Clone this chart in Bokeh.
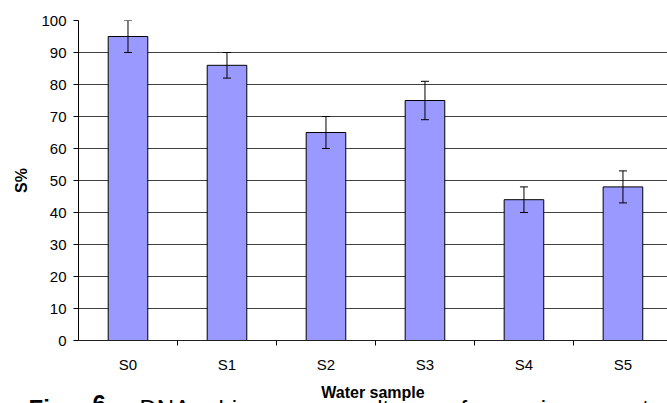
from bokeh.plotting import figure
from bokeh.models import Range1d, FixedTicker, Whisker, ColumnDataSource, TeeHead
from bokeh.core.properties import value
from bokeh.embed import file_html
from bokeh.resources import INLINE

# ---- data ----
samples = ["S0", "S1", "S2", "S3", "S4", "S5"]
values = [95, 86, 65, 75, 44, 48]
errors = [5, 4, 5, 6, 4, 5]
y_ticks = [0, 10, 20, 30, 40, 50, 60, 70, 80, 90, 100]
x_title = "Water sample"
y_title = "S%"
caption_words = ["Fig.", "6", "DNA", "biosensor", "results", "for", "various", "water"]
caption_styles = ["bold", "bold", "normal", "normal", "normal", "normal", "normal", "normal"]
# layout only: left edge (page px) of each caption word
caption_left = [28, 92, 139, 218, 330, 460, 507, 611]

FONT = "Liberation Sans"

xs = [i + 0.5 for i in range(len(samples))]
src = ColumnDataSource(dict(
    x=xs, top=values,
    upper=[v + e for v, e in zip(values, errors)],
    lower=[v - e for v, e in zip(values, errors)],
))

p = figure(width=667, height=403, output_backend="svg", toolbar_location=None,
           x_range=Range1d(0, 5.95), y_range=Range1d(0, 100),
           min_border_left=78, min_border_right=0, min_border_top=20,
           min_border_bottom=62)
p.outline_line_color = None
p.background_fill_color = "white"
p.border_fill_color = None

p.vbar(x="x", top="top", bottom=0, width=0.4, source=src,
       fill_color="#9999FF", line_color="black", line_width=1)

w = Whisker(base="x", upper="upper", lower="lower", source=src, level="overlay",
            line_color="black", line_width=1,
            upper_head=TeeHead(size=8, line_color="black", line_width=1),
            lower_head=TeeHead(size=8, line_color="black", line_width=1))
p.add_layout(w)

# grid
p.xgrid.visible = False
p.ygrid.ticker = FixedTicker(ticks=y_ticks)
p.ygrid.grid_line_color = "#404040"
p.ygrid.grid_line_width = 1

# y axis
ya = p.yaxis[0]
ya.ticker = FixedTicker(ticks=y_ticks, minor_ticks=[])
ya.axis_line_color = "black"
ya.major_tick_out = 5
ya.major_tick_in = 0
ya.major_tick_line_color = "black"
ya.major_label_standoff = 7
ya.major_label_text_font = FONT
ya.major_label_text_font_size = "15px"
ya.major_label_text_color = "black"
ya.axis_label = y_title
ya.axis_label_text_font = FONT
ya.axis_label_text_font_size = "16px"
ya.axis_label_text_font_style = "bold"
ya.axis_label_text_color = "black"
ya.axis_label_standoff = 8

# x axis
xa = p.xaxis[0]
xa.ticker = FixedTicker(ticks=xs, minor_ticks=[1, 2, 3, 4, 5])
xa.major_label_overrides = {x: s for x, s in zip(xs, samples)}
xa.axis_line_color = "#202020"
xa.major_tick_out = 0
xa.major_tick_in = 0
xa.minor_tick_out = 5
xa.minor_tick_in = 0
xa.minor_tick_line_color = "black"
xa.major_label_standoff = 10
xa.major_label_text_font = FONT
xa.major_label_text_font_size = "15px"
xa.major_label_text_color = "black"
xa.axis_label = x_title
xa.axis_label_text_font = FONT
xa.axis_label_text_font_size = "16px"
xa.axis_label_text_font_style = "bold"
xa.axis_label_text_color = "black"
xa.axis_label_standoff = 8

# ---- caption strip: a transparent 12px figure pulled up over the bottom of the chart;
# the caption text is cut off by the page bottom, as in the reference ----
CAP_H = 12
cap = figure(width=667, height=CAP_H, output_backend="svg", toolbar_location=None,
             x_range=Range1d(0, 667), y_range=Range1d(CAP_H, 0),
             x_axis_location=None, y_axis_location=None,
             min_border_left=0, min_border_right=0, min_border_top=0, min_border_bottom=0)
cap.outline_line_color = None
cap.background_fill_color = None
cap.border_fill_color = None
cap.xgrid.visible = False
cap.ygrid.visible = False
cap.styles = {"margin-top": f"-{CAP_H}px", "position": "relative", "z-index": "5"}

cap_src = ColumnDataSource(dict(
    x=caption_left, y=[3] * len(caption_words),
    text=caption_words, style=caption_styles,
))
cap.text(x="x", y="y", text="text", source=cap_src,
         text_font=value(FONT), text_font_size="24px", text_font_style="style",
         text_color="black", text_align="left", text_baseline="top")

open("out.html", "w").write(file_html([p, cap], INLINE))
